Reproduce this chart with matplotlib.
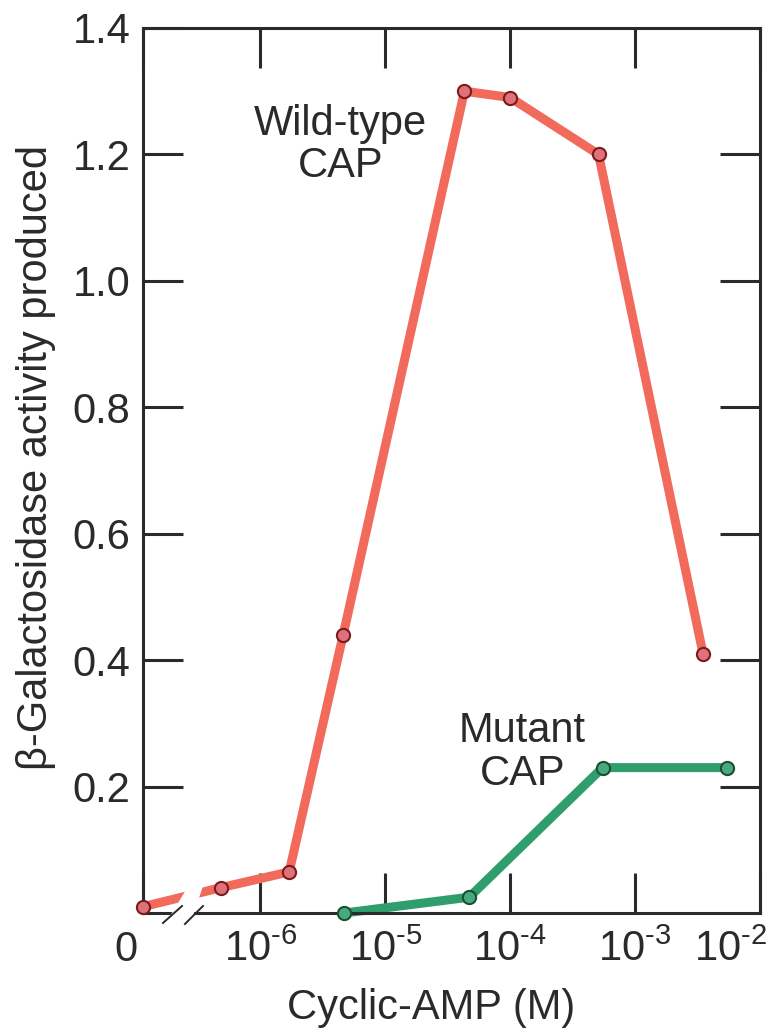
import numpy as np
import matplotlib
matplotlib.use("Agg")
import matplotlib.pyplot as plt
from matplotlib.patches import Polygon
from matplotlib.lines import Line2D
from matplotlib.transforms import ScaledTranslation

plt.rcParams.update({
    "font.family": ["Liberation Sans", "DejaVu Sans"],
    "mathtext.fontset": "custom",
    "mathtext.rm": "Liberation Sans",
    "font.size": 30,
})

# data (concentration in M, activity)
WT_CONC = [0, 4.8e-7, 1.7e-6, 4.6e-6, 4.3e-5, 1.0e-4, 5.1e-4, 3.5e-3]
WT_ACT = [0.01, 0.04, 0.065, 0.44, 1.30, 1.29, 1.20, 0.41]
MUT_CONC = [4.7e-6, 4.7e-5, 5.5e-4, 5.4e-3]
MUT_ACT = [0.0, 0.025, 0.23, 0.23]

X_TICKS = [0, 1e-6, 1e-5, 1e-4, 1e-3, 1e-2]
X_TICK_LABELS = ["0", "$\\mathregular{10^{\u20106}}$", "$\\mathregular{10^{\u20105}}$",
                 "$\\mathregular{10^{\u20104}}$", "$\\mathregular{10^{\u20103}}$",
                 "$\\mathregular{10^{\u20102}}$"]
Y_TICKS = [0.2, 0.4, 0.6, 0.8, 1.0, 1.2, 1.4]

X_ZERO = 10 ** -6.94  # where "0" sits on the broken log axis

RED = "#f26a5c"
RED_DOT = "#e0707a"
RED_EDGE = "#7a1c1c"
GREEN = "#2f9e6c"
GREEN_DOT = "#47aa7c"
GREEN_EDGE = "#1d4f35"
INK = "#2a2a2a"


def xpos(c):
    c = np.asarray(c, dtype=float)
    return np.where(c == 0, X_ZERO, c)


fig = plt.figure(figsize=(7.7, 10.28), dpi=100)
ax = fig.add_axes([143 / 770, 115 / 1028, 617 / 770, 885 / 1028])

ax.set_xscale("log")
ax.set_xlim(X_ZERO, 1e-2)
ax.set_ylim(0, 1.4)

ax.plot(xpos(WT_CONC), WT_ACT, color=RED, lw=6.5, solid_capstyle="butt", zorder=2, clip_on=False)
ax.plot(xpos(WT_CONC), WT_ACT, ls="none", marker="o", ms=9.5, mfc=RED_DOT, mec=RED_EDGE,
        mew=1.5, zorder=6, clip_on=False)
ax.plot(xpos(MUT_CONC), MUT_ACT, color=GREEN, lw=6.5, solid_capstyle="butt", zorder=2, clip_on=False)
ax.plot(xpos(MUT_CONC), MUT_ACT, ls="none", marker="o", ms=9.5, mfc=GREEN_DOT, mec=GREEN_EDGE,
        mew=1.5, zorder=6, clip_on=False)

# axis break between 0 and the log part
gap = Polygon([(0.042, -0.0056), (0.0794, 0.0373), (0.1005, 0.0373), (0.080, -0.0056)],
              closed=True, transform=ax.transAxes, facecolor="white", edgecolor="none",
              zorder=4, clip_on=False)
ax.add_patch(gap)
for x0, y0, x1, y1 in [(0.0324, -0.0113, 0.0632, 0.0079), (0.068, -0.0124, 0.0972, 0.0079)]:
    ax.add_line(Line2D([x0, x1], [y0, y1], transform=ax.transAxes, color=INK, lw=1.4,
                       zorder=5, clip_on=False))

for s in ax.spines.values():
    s.set_linewidth(2.2)
    s.set_color(INK)

ax.minorticks_off()
ax.set_xticks(xpos(X_TICKS))
ax.set_xticklabels(X_TICK_LABELS)
ax.set_yticks(Y_TICKS)
ax.set_yticklabels([f"{v:.1f}" for v in Y_TICKS])
ax.tick_params(axis="both", direction="in", length=29, width=2.2, color=INK,
               labelcolor=INK, labelsize=30, top=True, right=True)
ax.tick_params(axis="x", pad=12)
ax.tick_params(axis="y", pad=9)

labels = ax.get_xticklabels()
labels[0].set_transform(labels[0].get_transform() + ScaledTranslation(-17 / 100, 0, fig.dpi_scale_trans))
labels[-1].set_transform(labels[-1].get_transform() + ScaledTranslation(-29 / 100, 0, fig.dpi_scale_trans))

ax.set_xlabel("Cyclic-AMP (M)", fontsize=30, color=INK, va="baseline")
ax.xaxis.set_label_coords(0.467, -0.1198)
ax.set_ylabel("β-Galactosidase activity produced", fontsize=30, color=INK, va="center")
ax.yaxis.set_label_coords(-0.173, 0.515)

ax.text(4.37e-6, 1.231, "Wild-type", ha="center", va="baseline", fontsize=30, color=INK)
ax.text(4.37e-6, 1.165, "CAP", ha="center", va="baseline", fontsize=30, color=INK)
ax.text(1.25e-4, 0.2706, "Mutant", ha="center", va="baseline", fontsize=30, color=INK)
ax.text(1.25e-4, 0.2025, "CAP", ha="center", va="baseline", fontsize=30, color=INK)

fig.savefig("out.png", dpi=100, facecolor="white")
